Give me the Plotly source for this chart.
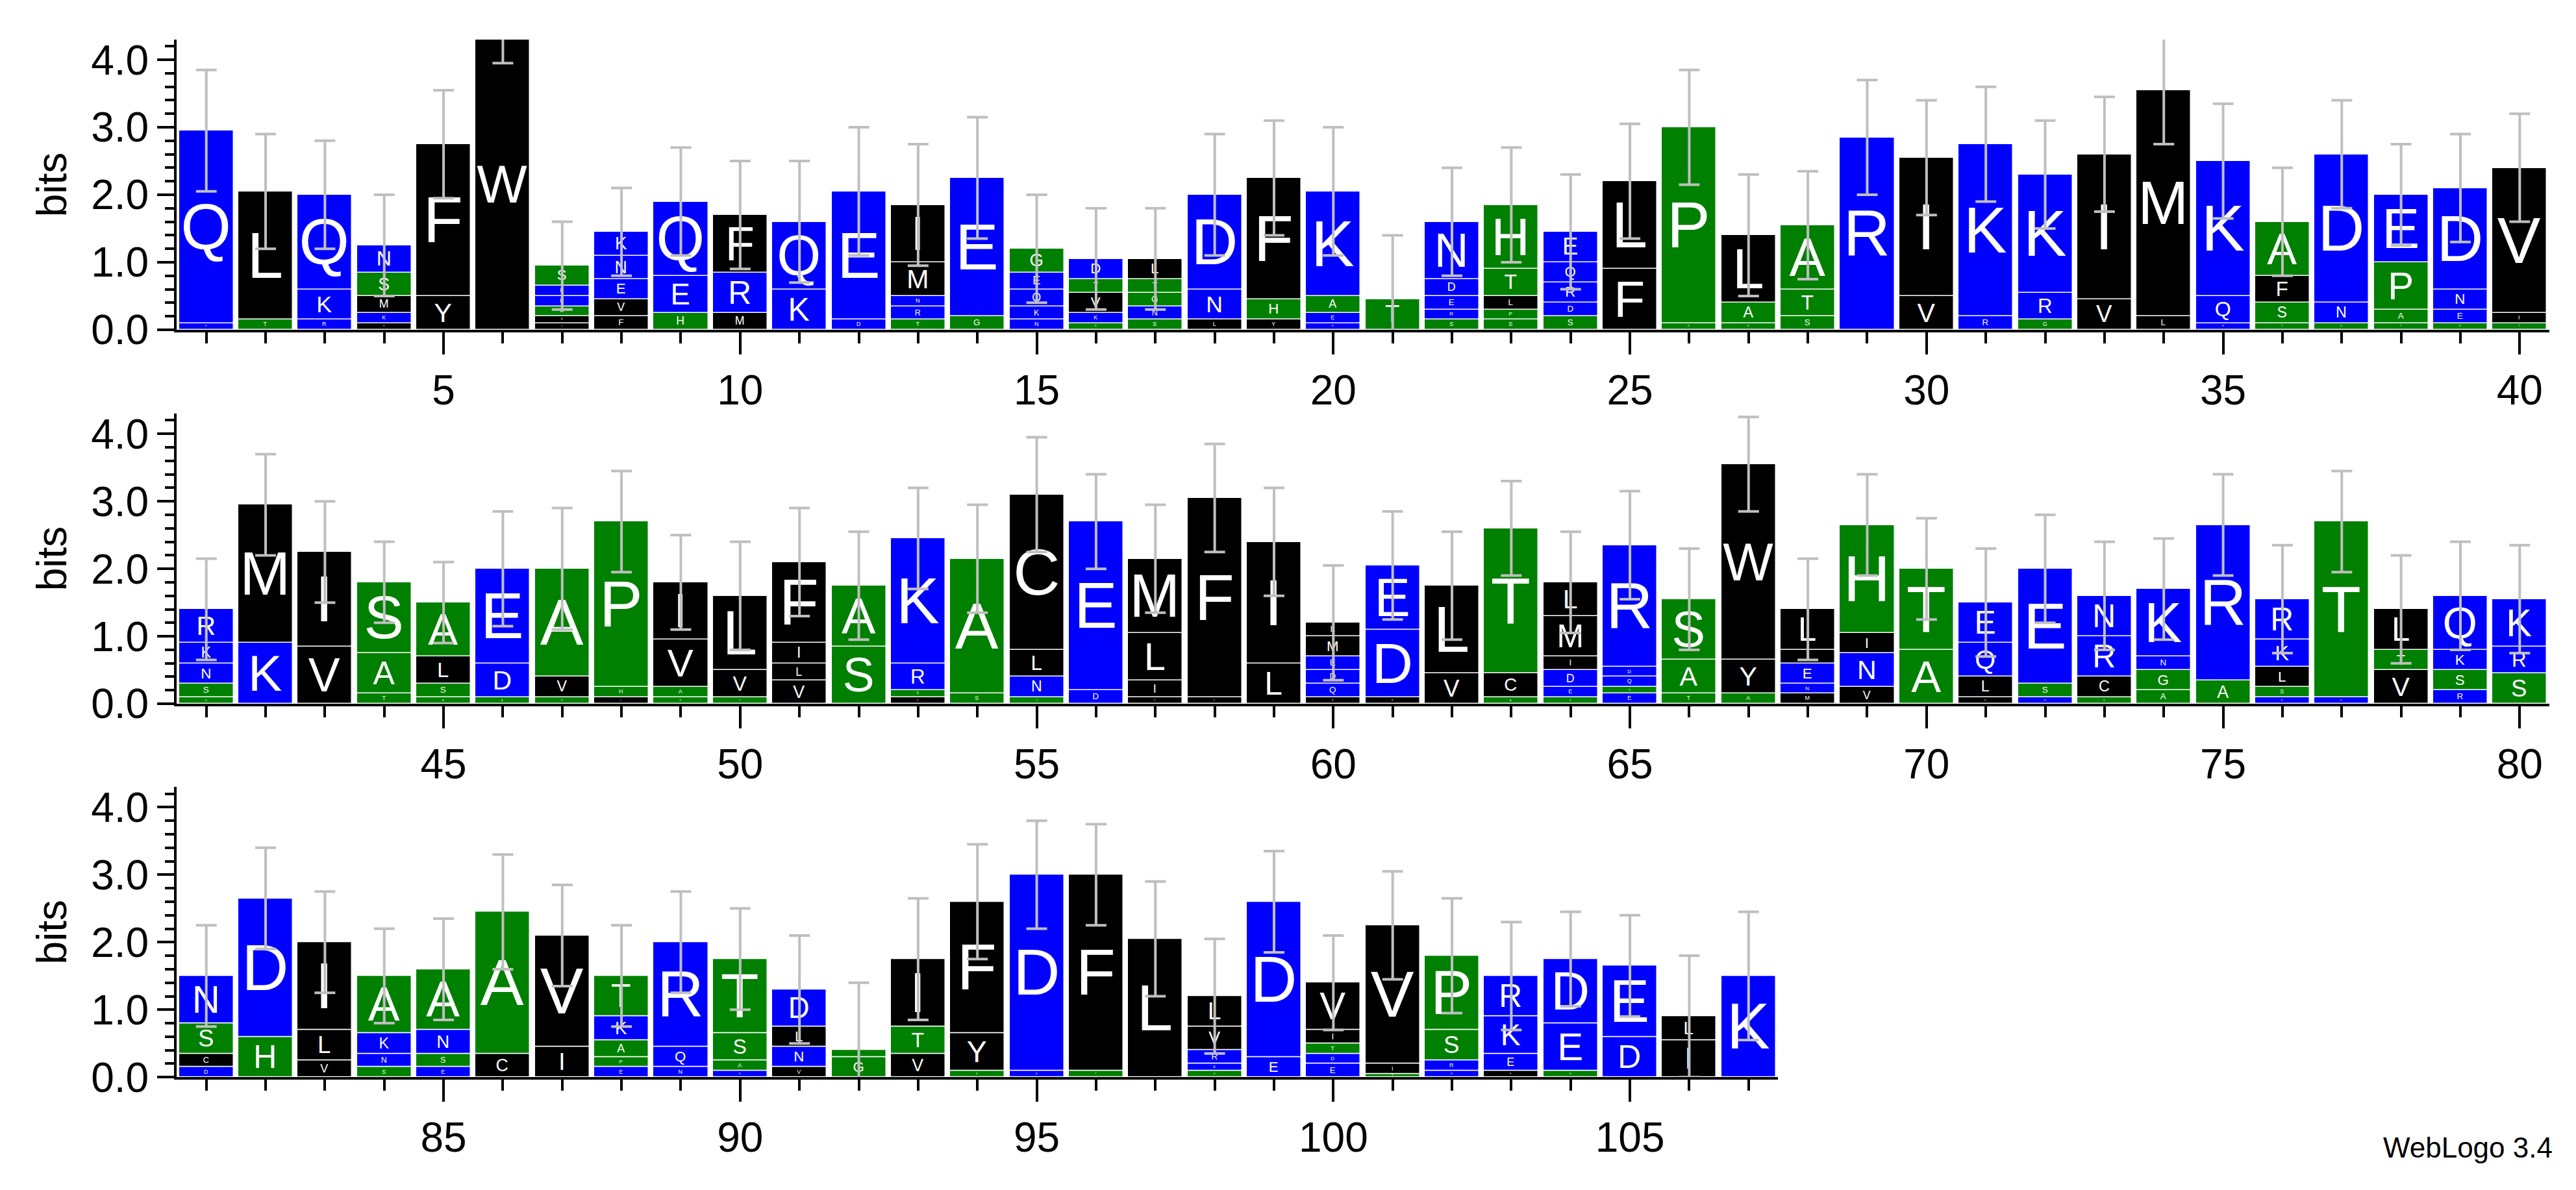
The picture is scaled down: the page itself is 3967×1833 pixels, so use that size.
import plotly.graph_objects as go

# Stacks per position, bottom -> top: (letter, bits)
stacks = {
1:[("K",0.1),("Q",2.85)],2:[("T",0.15),("L",1.9)],3:[("R",0.15),("K",0.45),("Q",1.4)],
4:[("V",0.1),("K",0.15),("M",0.25),("S",0.35),("N",0.4)],5:[("Y",0.5),("F",2.25)],6:[("W",4.3)],
7:[("I",0.1),("V",0.1),("A",0.15),("E",0.15),("K",0.15),("S",0.3)],8:[("F",0.2),("V",0.25),("E",0.3),("N",0.35),("K",0.35)],
9:[("H",0.25),("E",0.55),("Q",1.1)],10:[("M",0.25),("R",0.6),("F",0.85)],11:[("K",0.6),("Q",1.0)],
12:[("D",0.15),("E",1.9)],13:[("T",0.15),("R",0.2),("N",0.15),("M",0.5),("I",0.85)],14:[("G",0.2),("E",2.05)],
15:[("N",0.15),("K",0.2),("Q",0.25),("E",0.25),("G",0.35)],16:[("S",0.1),("K",0.15),("V",0.3),("T",0.2),("D",0.3)],
17:[("S",0.15),("N",0.2),("G",0.2),("T",0.2),("L",0.3)],18:[("L",0.15),("N",0.45),("D",1.4)],
19:[("Y",0.15),("H",0.3),("F",1.8)],20:[("R",0.1),("E",0.15),("A",0.25),("K",1.55)],21:[("T",0.45)],
22:[("S",0.15),("R",0.15),("E",0.2),("D",0.25),("N",0.85)],23:[("S",0.15),("P",0.15),("L",0.2),("T",0.4),("H",0.95)],
24:[("S",0.2),("D",0.2),("R",0.3),("Q",0.3),("E",0.45)],25:[("F",0.9),("L",1.3)],26:[("S",0.1),("P",2.9)],
27:[("S",0.1),("A",0.3),("L",1.0)],28:[("S",0.2),("T",0.4),("A",0.95)],29:[("R",2.85)],30:[("V",0.5),("I",2.05)],
31:[("R",0.2),("K",2.55)],32:[("G",0.15),("R",0.4),("K",1.75)],33:[("V",0.45),("I",2.15)],34:[("L",0.2),("M",3.35)],
35:[("R",0.1),("Q",0.4),("K",2.0)],36:[("T",0.1),("S",0.3),("F",0.4),("A",0.8)],37:[("S",0.1),("N",0.3),("D",2.2)],
38:[("T",0.1),("A",0.2),("P",0.7),("E",1.0)],39:[("G",0.1),("E",0.2),("N",0.3),("D",1.5)],40:[("T",0.1),("I",0.15),("V",2.15)],
41:[("G",0.1),("S",0.2),("N",0.3),("K",0.3),("R",0.5)],42:[("K",0.9),("M",2.05)],43:[("V",0.85),("I",1.4)],
44:[("T",0.15),("A",0.6),("S",1.05)],45:[("A",0.1),("S",0.2),("L",0.4),("A",0.8)],46:[("A",0.1),("D",0.5),("E",1.4)],
47:[("S",0.1),("V",0.3),("A",1.6)],48:[("L",0.1),("H",0.15),("P",2.45)],49:[("S",0.1),("A",0.15),("V",0.7),("I",0.85)],
50:[("T",0.1),("V",0.4),("L",1.1)],51:[("V",0.35),("L",0.25),("I",0.3),("F",1.2)],52:[("S",0.85),("A",0.9)],
53:[("Y",0.1),("S",0.1),("R",0.4),("K",1.85)],54:[("S",0.15),("A",2.0)],55:[("T",0.1),("N",0.3),("L",0.4),("C",2.3)],
56:[("D",0.2),("E",2.5)],57:[("Y",0.1),("I",0.25),("L",0.7),("M",1.1)],58:[("L",0.1),("F",2.95)],59:[("L",0.6),("I",1.8)],
60:[("F",0.1),("Q",0.2),("D",0.2),("E",0.2),("M",0.3),("L",0.2)],61:[("F",0.1),("D",1.0),("E",0.95)],62:[("V",0.45),("L",1.3)],
63:[("A",0.1),("C",0.35),("T",2.15)],64:[("S",0.1),("E",0.15),("D",0.25),("I",0.2),("M",0.6),("L",0.5)],
65:[("E",0.15),("S",0.1),("Q",0.15),("D",0.15),("R",1.8)],66:[("T",0.15),("A",0.5),("S",0.9)],67:[("A",0.15),("Y",0.5),("W",2.9)],
68:[("M",0.15),("N",0.15),("E",0.3),("I",0.2),("L",0.6)],69:[("V",0.25),("N",0.5),("I",0.3),("H",1.6)],70:[("A",0.8),("T",1.2)],
71:[("V",0.1),("L",0.3),("Q",0.5),("E",0.6)],72:[("N",0.1),("S",0.2),("E",1.7)],73:[("S",0.1),("C",0.3),("R",0.6),("N",0.6)],
74:[("A",0.2),("G",0.3),("N",0.2),("K",1.0)],75:[("A",0.35),("R",2.3)],76:[("E",0.1),("S",0.15),("L",0.3),("K",0.4),("R",0.6)],
77:[("K",0.1),("T",2.6)],78:[("V",0.5),("T",0.3),("L",0.6)],79:[("R",0.2),("S",0.3),("K",0.3),("Q",0.8)],80:[("S",0.45),("R",0.4),("K",0.7)],
81:[("D",0.15),("C",0.2),("S",0.45),("N",0.7)],82:[("H",0.6),("D",2.05)],83:[("V",0.25),("L",0.45),("I",1.3)],
84:[("S",0.15),("N",0.2),("K",0.3),("A",0.85)],85:[("E",0.15),("S",0.2),("N",0.35),("A",0.9)],86:[("C",0.35),("A",2.1)],
87:[("I",0.45),("V",1.65)],88:[("E",0.15),("P",0.15),("A",0.25),("K",0.35),("T",0.6)],89:[("N",0.15),("Q",0.3),("R",1.55)],
90:[("E",0.1),("A",0.15),("S",0.4),("T",1.1)],91:[("V",0.15),("N",0.3),("L",0.3),("D",0.55)],92:[("G",0.3),("T",0.1)],
93:[("V",0.35),("T",0.4),("I",1.0)],94:[("S",0.1),("Y",0.55),("F",1.95)],95:[("E",0.1),("D",2.9)],96:[("T",0.1),("F",2.9)],
97:[("L",2.05)],98:[("S",0.1),("E",0.1),("R",0.2),("V",0.35),("L",0.45)],99:[("E",0.3),("D",2.3)],
100:[("E",0.2),("D",0.15),("T",0.15),("I",0.2),("V",0.7)],101:[("T",0.05),("I",0.15),("V",2.05)],
102:[("N",0.1),("R",0.15),("S",0.45),("P",1.1)],103:[("F",0.1),("E",0.25),("K",0.55),("R",0.6)],
104:[("G",0.1),("E",0.7),("D",0.95)],105:[("D",0.6),("E",1.05)],106:[("I",0.55),("L",0.35)],107:[("K",1.5)],
}
errors = [0.9,0.85,0.8,0.75,0.8,0.35,0.65,0.65,0.8,0.8,0.9,0.95,0.9,0.9,0.8,0.75,0.75,0.9,0.85,0.95,0.95,
          0.8,0.85,0.85,0.85,0.85,0.9,0.8,0.85,0.85,0.85,0.8,0.85,0.8,0.85,0.8,0.8,0.75,0.8,0.8,
          0.75,0.75,0.75,0.6,0.6,0.85,0.9,0.75,0.7,0.8,0.8,0.8,0.75,0.8,0.85,0.7,0.8,0.8,0.8,0.85,
          0.8,0.8,0.7,0.75,0.8,0.75,0.7,0.75,0.75,0.75,0.8,0.8,0.8,0.75,0.75,0.8,0.75,0.8,0.8,0.8,
          0.75,0.75,0.75,0.7,0.75,0.85,0.75,0.75,0.75,0.75,0.8,1.0,0.9,0.85,0.8,0.75,0.85,0.85,0.75,0.7,
          0.8,0.85,0.8,0.7,0.75,0.9,0.95]
row_ranges = [(1, 40), (41, 80), (81, 107)]
x_tickvals = [list(range(5, 41, 5)), list(range(45, 81, 5)), list(range(85, 106, 5))]
y_tickvals = [0, 1, 2, 3, 4]

COL = {}
for c in "RKDENQ": COL[c] = "#0000ff"
for c in "SGHTAP": COL[c] = "#008000"
for c in "YVMCLFIW": COL[c] = "#000000"

W, H = 3967, 1833
xl, xr = 264 / W, 3918 / W
baselines = [507, 1096, 1684]
rowh = 457

fig = go.Figure()
for r, (a, b) in enumerate(row_ranges):
    xs, ys, bases, txt, cols = [], [], [], [], []
    ex, ey, ee = [], [], []
    for p in range(a, b + 1):
        cum = 0
        for letter, h in stacks[p]:
            xs.append(p); ys.append(h); bases.append(cum); txt.append(letter); cols.append(COL[letter])
            cum += h
        ex.append(p); ey.append(cum); ee.append(errors[p - 1])
    ax = "" if r == 0 else str(r + 1)
    fig.add_trace(go.Bar(x=xs, y=ys, base=bases, text=txt, marker=dict(color=cols, line=dict(color="white", width=1.5)),
                         width=0.92, textposition="inside", insidetextanchor="middle", textangle=0,
                         textfont=dict(color="white", size=100, family="Liberation Sans"), constraintext="inside",
                         xaxis="x" + ax, yaxis="y" + ax, showlegend=False, hoverinfo="skip"))
    fig.add_trace(go.Scatter(x=ex, y=ey, mode="markers", marker=dict(size=1, color="rgba(0,0,0,0)"),
                             error_y=dict(type="data", array=ee, color="#bfbfbf", thickness=4, width=16),
                             xaxis="x" + ax, yaxis="y" + ax, showlegend=False, hoverinfo="skip"))
    n = 40 if r < 2 else 27
    dom_x = [xl, xl + (xr - xl) * n / 40]
    yb = 1 - baselines[r] / H
    dom_y = [yb, yb + rowh / H]
    axis_common = dict(showline=True, linecolor="black", linewidth=4, ticks="outside", tickcolor="black",
                       tickwidth=4, showgrid=False, zeroline=False, tickfont=dict(size=64, family="Liberation Sans", color="black"))
    fig.update_layout(**{
        "xaxis" + ax: dict(domain=dom_x, range=[a - 0.5, b + 0.5], anchor="y" + ax, tickvals=x_tickvals[r], ticklen=34,
                           minor=dict(tickvals=list(range(a, b + 1)), ticklen=17, tickwidth=4, tickcolor="black", ticks="outside"),
                           **axis_common),
        "yaxis" + ax: dict(domain=dom_y, range=[0, 4.3], anchor="x" + ax, tickvals=y_tickvals, tickformat=".1f", ticklen=26,
                           minor=dict(dtick=0.2, ticklen=14, tickwidth=4, tickcolor="black", ticks="outside"),
                           title=dict(text="bits", font=dict(size=64, family="Liberation Sans", color="black"), standoff=18),
                           **axis_common),
    })

fig.add_annotation(x=3925 / W, y=1 - 1822 / H, xref="paper", yref="paper", xanchor="right", yanchor="bottom",
                   text="WebLogo 3.4", showarrow=False, font=dict(size=44, family="Liberation Sans", color="black"))
fig.update_layout(width=W, height=H, margin=dict(l=0, r=0, t=0, b=0), plot_bgcolor="white", paper_bgcolor="white",
                  barmode="overlay", bargap=0)
fig.write_html("out.html")
